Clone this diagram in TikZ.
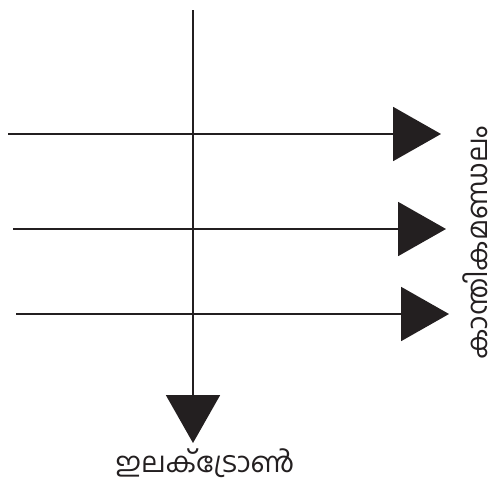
\documentclass[tikz,border=0pt]{standalone}
\usepackage{fontspec}
\newfontfamily\malfont[Script=Malayalam]{Hind Kochi}
\usetikzlibrary{arrows.meta}
\definecolor{inkdark}{HTML}{231F20}

\begin{document}
\begin{tikzpicture}[x=0.5pt, y=-0.5pt, every node/.style={font=\malfont\fontsize{14}{16}\selectfont, text=inkdark, inner sep=0pt},
  fieldline/.style={draw=inkdark, line width=1pt, -{Triangle[length=24pt, width=27pt]}}]
  \useasboundingbox (0,0) rectangle (491,482);

  % Electron path (vertical)
  \coordinate (etop) at (193,10);
  \coordinate (ebot) at (193,443);
  \draw[fieldline] (etop) -- (ebot);

  % Field lines
  \coordinate (a1) at (8,134);
  \coordinate (b1) at (441,134);
  \coordinate (a2) at (13,229);
  \coordinate (b2) at (446,229);
  \coordinate (a3) at (16,314);
  \coordinate (b3) at (449,314);
  \draw[fieldline] (a1) -- (b1);
  \draw[fieldline] (a2) -- (b2);
  \draw[fieldline] (a3) -- (b3);

  % Labels
  \node (electron) at (205,463) {ഇലക്ട്രോൺ};
  \node[rotate=90] (field) at (475,243) {കാന്തികമണ്ഡലം};
\end{tikzpicture}
\end{document}
